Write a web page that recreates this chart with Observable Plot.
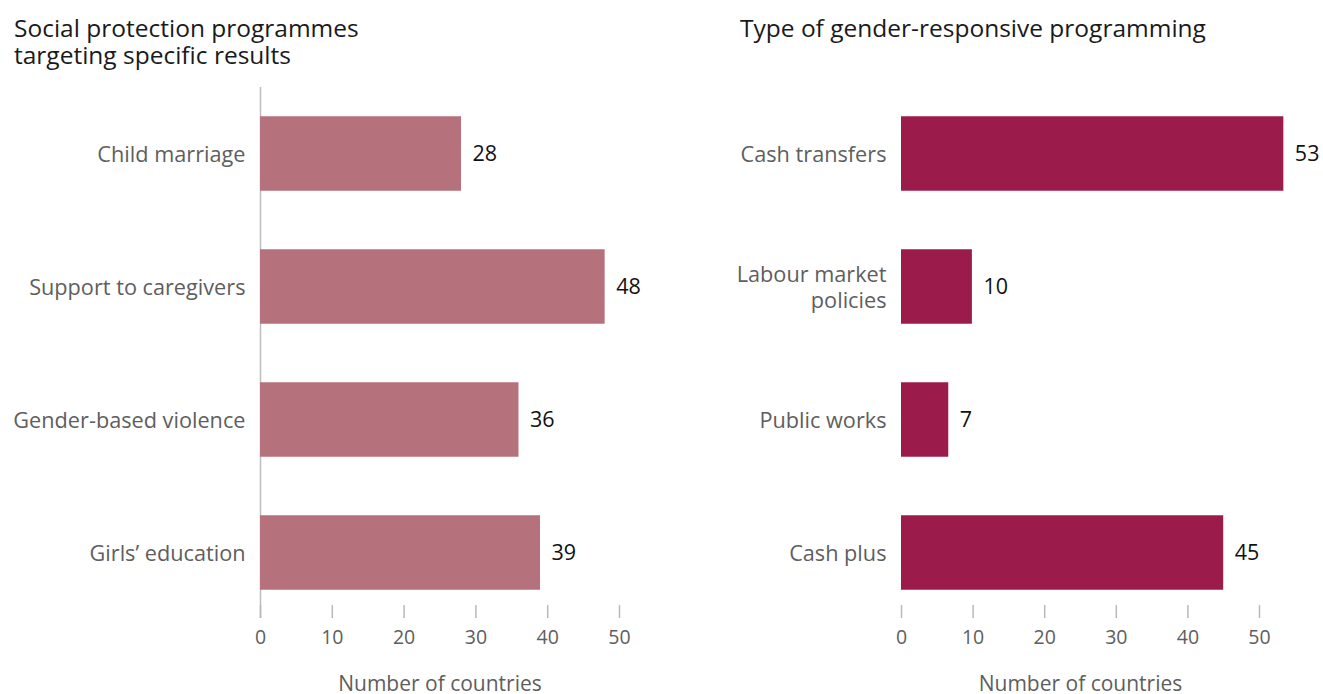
<!DOCTYPE html>
<html>
<head>
<meta charset="utf-8">
<script src="https://cdn.jsdelivr.net/npm/d3@7"></script>
<script src="https://cdn.jsdelivr.net/npm/@observablehq/plot@0.6"></script>
<style>
html, body { margin: 0; padding: 0; background: #fff; overflow: hidden; }
body { width: 1323px; height: 694px; position: relative; font-family: "Open Sans", sans-serif; }
.panel { position: absolute; top: 0; height: 694px; }
.title { position: absolute; top: 14px; font-size: 24.5px; line-height: 27px; color: #1a1a1a; white-space: nowrap; }
.chart { position: absolute; top: 80px; left: 0; }
</style>
</head>
<body>
<div class="panel" id="left" style="left:0;width:660px">
  <div class="title" style="left:14px">Social protection programmes<br>targeting specific results</div>
  <div class="chart"></div>
</div>
<div class="panel" id="right" style="left:660px;width:663px">
  <div class="title" style="left:80px">Type of gender-responsive programming</div>
  <div class="chart"></div>
</div>
<script>
// ---- data ----
const leftCategories = ["Child marriage", "Support to caregivers", "Gender-based violence", "Girls’ education"];
const leftValues = [28, 48, 36, 39];
const rightCategories = ["Cash transfers", "Labour market\npolicies", "Public works", "Cash plus"];
const rightValues = [53.4, 9.9, 6.6, 45];
const xTicks = [0, 10, 20, 30, 40, 50];
const axisTitle = "Number of countries";

function panel(el, cats, vals, color, width, ml, mr, showRule) {
  const data = cats.map((c, i) => ({category: c, value: vals[i]}));
  const height = 614;
  const marks = [];
  if (showRule) marks.push(Plot.ruleX([0], {stroke: "#bdbdbd", strokeWidth: 1.5, insetBottom: -13}));
  marks.push(
    Plot.barX(data, {x: "value", y: "category", fill: color}),
    Plot.text(data, {x: "value", y: "category", text: d => String(Math.round(d.value)), dx: 11, textAnchor: "start", fill: "#111", fontSize: 21.5}),
    Plot.axisY({tickSize: 0, tickPadding: 15, fontSize: 21.7, fill: "#5e5e5e", lineHeight: 1.16, label: null}),
    Plot.axisX({ticks: xTicks, tickSize: 13, tickPadding: 12, fontSize: 19.5, fill: "#5e5e5e", stroke: "#b8b8b8", strokeWidth: 1.5, label: null, tickFormat: d => String(d)}),
    Plot.text([axisTitle], {frameAnchor: "bottom", dy: 85, fontSize: 21, fill: "#5e5e5e"})
  );
  const chart = Plot.plot({
    width, height,
    marginLeft: ml, marginRight: mr, marginTop: 7, marginBottom: 89,
    style: {fontFamily: "'Open Sans', sans-serif", background: "#fff", color: "#5e5e5e", overflow: "visible"},
    x: {domain: [0, 50]},
    y: {domain: cats, range: [7, 539], paddingInner: 0.44, paddingOuter: 0.22, round: false},
    marks
  });
  document.querySelector(el + " .chart").appendChild(chart);
}

panel("#left", leftCategories, leftValues, "#b5717c", 660, 260, 41, true);
panel("#right", rightCategories, rightValues, "#9b1b4a", 663, 241, 64, false);
</script>
</body>
</html>
